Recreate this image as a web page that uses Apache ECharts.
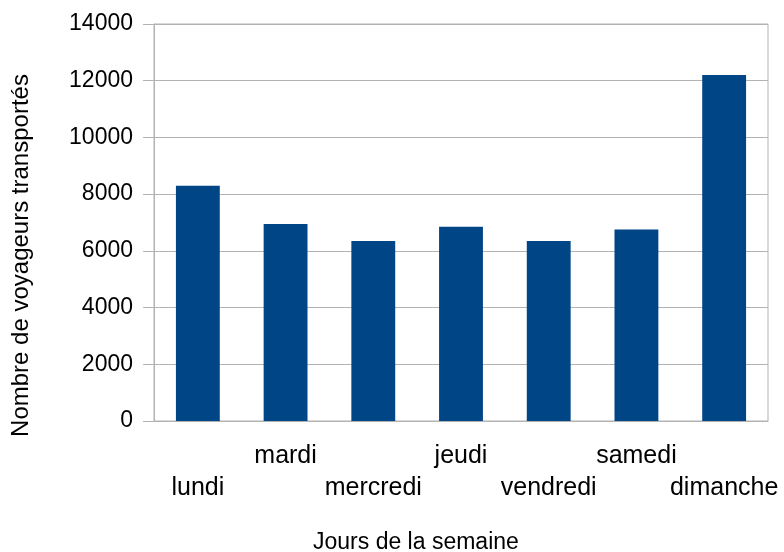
<!DOCTYPE html>
<html>
<head>
<meta charset="utf-8" />
<title>Voyageurs transportés</title>
<script src="https://cdn.jsdelivr.net/npm/echarts@6/dist/echarts.min.js"></script>
<style>
  html, body { margin: 0; padding: 0; background: #fff; }
  #chart { width: 784px; height: 552px; }
</style>
</head>
<body>
<div id="chart"></div>
<script>
  var jours = ['lundi', 'mardi', 'mercredi', 'jeudi', 'vendredi', 'samedi', 'dimanche'];
  var voyageurs = [8300, 6950, 6350, 6850, 6350, 6750, 12200];

  var chart = echarts.init(document.getElementById('chart'));
  var police = 'Liberation Sans, Arial, sans-serif';

  chart.setOption({
    animation: false,
    title: {
      text: 'Jours de la semaine',
      left: 308,
      top: 526,
      textStyle: { fontFamily: police, fontSize: 23, fontWeight: 'normal', color: '#000' }
    },
    grid: {
      left: 154, right: 16, top: 24, bottom: 131,
      outerBoundsMode: 'none',
      show: true, borderColor: '#b3b3b3', borderWidth: 1
    },
    xAxis: {
      type: 'category',
      data: jours,
      axisLine: { lineStyle: { color: '#b3b3b3' } },
      axisTick: { length: 11, lineStyle: { color: '#b3b3b3' } },
      axisLabel: {
        interval: 0,
        margin: 19,
        fontFamily: police,
        fontSize: 25,
        color: '#000',
        lineHeight: 32,
        formatter: function (v, i) { return i % 2 === 0 ? '\n' + v : v; }
      }
    },
    yAxis: {
      type: 'value',
      min: 0, max: 14000, interval: 2000,
      name: 'Nombre de voyageurs transportés',
      nameLocation: 'middle',
      nameGap: 121,
      nameTextStyle: { fontFamily: police, fontSize: 24, color: '#000', padding: [0, 66, 0, 0] },
      axisLine: { show: true, lineStyle: { color: '#b3b3b3' } },
      axisTick: { show: true, length: 11, lineStyle: { color: '#b3b3b3' } },
      splitLine: { lineStyle: { color: '#b3b3b3' } },
      axisLabel: {
        margin: 21,
        fontFamily: police,
        fontSize: 23,
        color: '#000',
        formatter: function (v) { return String(v); }
      }
    },
    series: [{
      type: 'bar',
      data: voyageurs,
      barWidth: '50%',
      itemStyle: { color: '#004586' }
    }]
  });
</script>
</body>
</html>
